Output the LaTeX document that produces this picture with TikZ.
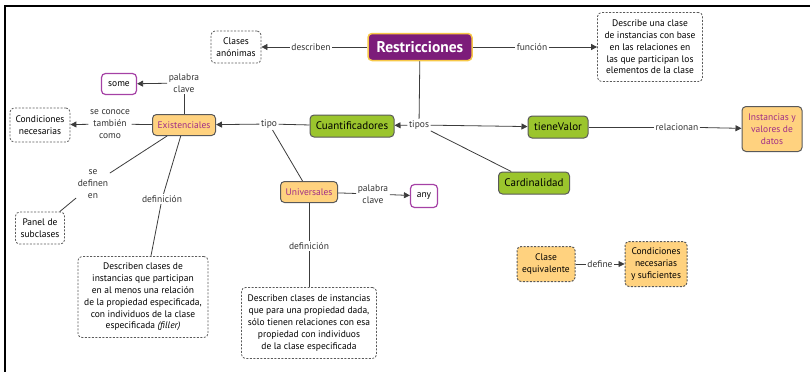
\documentclass[tikz,border=0pt]{standalone}
\usepackage{fontspec}
\setmainfont{PT Sans}
\usetikzlibrary{arrows.meta}
\definecolor{restrpurple}{RGB}{124,28,122}
\definecolor{restrgold}{RGB}{247,200,72}
\definecolor{cuantgreen}{RGB}{155,197,45}
\definecolor{nodeorange}{RGB}{255,210,127}
\definecolor{textmag}{RGB}{160,45,135}
\definecolor{keypurple}{RGB}{165,65,165}
\definecolor{linegray}{RGB}{60,60,60}
\definecolor{dashgray}{RGB}{90,90,90}
\begin{document}
\begin{tikzpicture}[x=1pt,y=-1pt,
    font=\fontsize{9.5}{11.8}\selectfont,
    >={Triangle[length=6pt,width=6pt]},
    lbl/.style={text=black!80,align=center,inner sep=1.5pt},
    conn/.style={draw=linegray,line width=0.8pt},
    dashbox/.style={draw=dashgray,line width=0.8pt,dash pattern=on 2pt off 1.5pt,
        rounded corners=4pt,align=center,inner sep=1.5pt},
    keybox/.style={draw=keypurple,line width=1.2pt,rounded corners=4pt,minimum height=21pt},
    greenbox/.style={fill=cuantgreen,draw=black!65,line width=1pt,rounded corners=4pt,
        minimum height=22pt,font=\fontsize{11}{13}\selectfont},
    orangebox/.style={fill=nodeorange,draw=black!65,line width=1pt,rounded corners=4pt,
        align=center,text=textmag,inner sep=1.5pt}]
\useasboundingbox (0,0) rectangle (810,372);
\draw[line width=2.5pt] (810,6) -- (5,6) -- (5,372);
%
\node[fill=restrpurple,draw=restrgold,line width=1.5pt,rounded corners=4pt,text=white,
    font=\fontsize{15.5}{17}\bfseries,minimum width=104pt,minimum height=27pt,inner sep=1pt] (restr) at (420,47) {Restricciones};
\node[dashbox,minimum width=50pt,minimum height=32pt] (anon) at (236,47) {Clases\\anónimas};
\node[dashbox,minimum width=105pt,minimum height=69pt] (desc) at (650,47) {Describe una clase\\de instancias con base\\en las relaciones en\\las que participan los\\elementos de la clase};
\node[greenbox,minimum width=84pt] (cuant) at (352,126) {Cuantificadores};
\node[greenbox,minimum width=60pt] (tval) at (558,127) {tieneValor};
\node[greenbox,minimum width=71pt] (card) at (534,183) {Cardinalidad};
\node[orangebox,minimum width=60pt,minimum height=45pt] (inst) at (772,129) {Instancias y\\valores de\\datos};
\node[orangebox,minimum width=63pt,minimum height=21pt] (exist) at (184,125) {Existenciales};
\node[orangebox,minimum width=57pt,minimum height=21pt] (univ) at (309,192) {Universales};
\node[keybox,minimum width=35pt] (some) at (119,84) {some};
\node[keybox,minimum width=27pt,minimum height=23pt] (any) at (424,196) {any};
\node[dashbox,minimum width=60pt,minimum height=34pt] (cnec) at (40,125) {Condiciones\\necesarias};
\node[dashbox,minimum width=49pt,minimum height=32pt] (panel) at (40,228) {Panel de\\subclases};
\node[dashbox,minimum width=130pt,minimum height=81pt] (defex) at (143,297) {Describen clases de\\instancias que participan\\en al menos una relación\\de la propiedad especificada,\\con individuos de la clase\\especificada \textit{(filler)}};
\node[dashbox,minimum width=135pt,minimum height=71pt] (defun) at (309,323) {Describen clases de instancias\\que para una propiedad dada,\\sólo tienen relaciones con esa\\propiedad con individuos\\de la clase especificada};
\node[orangebox,dash pattern=on 2pt off 1.5pt,text=black,minimum width=58pt,minimum height=35pt] (cequiv) at (546,264) {Clase\\equivalente};
\node[orangebox,dash pattern=on 2pt off 1.5pt,text=black,minimum width=62pt,minimum height=45pt] (cnsuf) at (656,264) {Condiciones\\necesarias\\y suficientes};
% labels
\node[lbl] (ldescr) at (311,47) {describen};
\node[lbl] (lfunc) at (532,47) {función};
\node[lbl] (ltipos) at (419,125) {tipos};
\node[lbl] (lrel) at (677,127) {relacionan};
\node[lbl] (ltipo) at (269,124) {tipo};
\node[lbl] (lsome) at (184,83) {palabra\\clave};
\node[lbl] (lconoce) at (110,124) {se conoce\\también\\como};
\node[lbl] (ldefinen) at (93,184) {se\\definen\\en};
\node[lbl] (ldefex) at (162,199) {definición};
\node[lbl] (lany) at (373,194) {palabra\\clave};
\node[lbl] (ldefun) at (309,246) {definición};
\node[lbl] (ldefine) at (600,264) {define};
% connectors
\draw[conn] (restr) -- (ldescr);
\draw[conn,->] (ldescr) -- (anon);
\draw[conn] (restr) -- (lfunc);
\draw[conn,->] (lfunc) -- (desc);
\draw[conn] (restr) -- (ltipos);
\draw[conn,->] (ltipos) -- (cuant);
\draw[conn,->] (ltipos) -- (tval);
\draw[conn] (ltipos) -- (card);
\draw[conn] (tval) -- (lrel);
\draw[conn,->] (lrel) -- (inst);
\draw[conn] (cuant) -- (ltipo);
\draw[conn,->] (ltipo) -- (exist);
\draw[conn] (ltipo) -- (univ);
\draw[conn] (exist) -- (lsome);
\draw[conn,->] (lsome) -- (some);
\draw[conn] (exist) -- (lconoce);
\draw[conn,->] (lconoce) -- (cnec);
\draw[conn] (exist) -- (ldefinen);
\draw[conn] (ldefinen) -- (panel);
\draw[conn] (exist) -- (ldefex);
\draw[conn] (ldefex) -- (defex);
\draw[conn] (univ) -- (lany);
\draw[conn,->] (lany) -- (any);
\draw[conn] (univ) -- (ldefun);
\draw[conn] (ldefun) -- (defun);
\draw[conn] (cequiv) -- (ldefine);
\draw[conn,->] (ldefine) -- (cnsuf);
\end{tikzpicture}
\end{document}
